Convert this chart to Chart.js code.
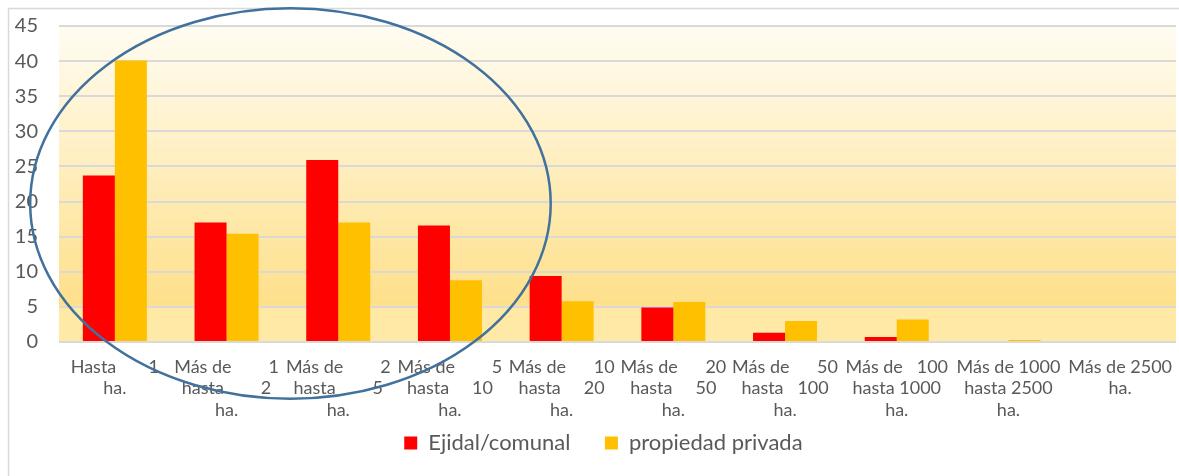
<!DOCTYPE html>
<html>
<head>
<meta charset="utf-8">
<script src="https://cdn.jsdelivr.net/npm/chart.js@4.4.0/dist/chart.umd.min.js"></script>
<style>
  html, body { margin: 0; padding: 0; background: #ffffff; }
  canvas { display: block; }
</style>
</head>
<body>
<canvas id="grafica" width="1179" height="476"></canvas>
<script>
// categorias (cada una en lineas, como sale en el original)
var categorias = [
	["Hasta 1", "ha."],
	["Más de 1", "hasta 2", "ha."],
	["Más de 2", "hasta 5", "ha."],
	["Más de 5", "hasta 10", "ha."],
	["Más de 10", "hasta 20", "ha."],
	["Más de 20", "hasta 50", "ha."],
	["Más de 50", "hasta 100", "ha."],
	["Más de 100", "hasta 1000", "ha."],
	["Más de 1000", "hasta 2500", "ha."],
	["Más de 2500", "ha."]
];
var ejidal = [23.7, 17.0, 25.9, 16.6, 9.4, 4.9, 1.3, 0.7, 0, 0];
var privada = [40.1, 15.4, 17.0, 8.8, 5.8, 5.7, 3.0, 3.2, 0.3, 0.15];
var ticksY = [0, 5, 10, 15, 20, 25, 30, 35, 40, 45];

var fuente = "Lato, 'Open Sans', sans-serif";
var gris = "#595959";

// rellena con espacios antes de la ultima palabra, como en Excel
var justificar = function (ctx, linea, ancho) {
	var palabras = linea.split(" ");
	if (palabras.length < 2) return linea;
	var cabeza = palabras.slice(0, -1).join(" ");
	var cola = palabras[palabras.length - 1];
	var libre = ancho - ctx.measureText(cabeza).width - ctx.measureText(cola).width;
	var n = Math.max(1, Math.round(libre / ctx.measureText(" ").width));
	return cabeza + " ".repeat(n) + cola;
};

var fondo = {
	id: "fondo",
	beforeDraw: function (chart) {
		var ctx = chart.ctx, a = chart.chartArea;
		ctx.save();
		// marco del grafico
		ctx.strokeStyle = "#d9d9d9";
		ctx.lineWidth = 1.5;
		ctx.beginPath();
		ctx.moveTo(8.5, chart.height);
		ctx.lineTo(8.5, 8.5);
		ctx.lineTo(chart.width, 8.5);
		ctx.stroke();
		// degradado del area de trazado
		var g = ctx.createLinearGradient(0, a.top, 0, a.bottom);
		g.addColorStop(0, "#fffcf2");
		g.addColorStop(0.88, "#fee08b");
		g.addColorStop(0.895, "#ffe9a5");
		g.addColorStop(1, "#ffe9a6");
		ctx.fillStyle = g;
		ctx.fillRect(a.left, a.top, a.right - a.left, a.bottom - a.top);
		ctx.restore();
	}
};

var elipse = {
	id: "elipse",
	afterDraw: function (chart) {
		var x = chart.scales.x, y = chart.scales.y, ctx = chart.ctx;
		var cx = x.getPixelForValue(1.572);
		var rx = (x.getPixelForValue(1) - x.getPixelForValue(0)) * 2.33;
		var cy = y.getPixelForValue(19.73);
		var ry = y.getPixelForValue(0) - y.getPixelForValue(27.8);
		ctx.save();
		ctx.strokeStyle = "#41719c";
		ctx.lineWidth = 2.5;
		ctx.beginPath();
		ctx.ellipse(cx, cy, rx, ry, 0, 0, Math.PI * 2);
		ctx.stroke();
		ctx.restore();
	}
};

var ctx = document.getElementById("grafica").getContext("2d");
var grafica = new Chart(ctx, {
	type: "bar",
	data: {
		labels: categorias,
		datasets: [{
			label: "Ejidal/comunal",
			data: ejidal,
			backgroundColor: "#ff0000",
			categoryPercentage: 0.573,
			barPercentage: 1
		}, {
			label: "propiedad privada",
			data: privada,
			backgroundColor: "#ffc000",
			categoryPercentage: 0.573,
			barPercentage: 1
		}]
	},
	options: {
		responsive: false,
		devicePixelRatio: 1,
		animation: false,
		layout: { padding: { left: 9, right: 3, top: 26, bottom: 12 } },
		plugins: {
			tooltip: { enabled: false },
			legend: {
				position: "bottom",
				fullSize: false,
				labels: {
					boxWidth: 13,
					boxHeight: 13,
					padding: 12,
					color: gris,
					font: { family: fuente, size: 22 },
					// hueco entre las dos entradas de la leyenda
					generateLabels: function (chart) {
						var items = Chart.defaults.plugins.legend.labels.generateLabels(chart);
						items.forEach(function (it, i) {
							it.text = it.text + (i < items.length - 1 ? "    " : "     ");
						});
						return items;
					}
				}
			}
		},
		scales: {
			x: {
				grid: { display: false, drawTicks: false },
				border: { display: false },
				afterFit: function (s) {
					s.height = 78;
					s.paddingLeft = 0;
					s.paddingRight = 0;
				},
				ticks: {
					autoSkip: false,
					maxRotation: 0,
					padding: 14,
					color: gris,
					font: { family: fuente, size: 18, lineHeight: 1.2 },
					callback: function (valor, i) {
						var c = this.chart.ctx;
						c.save();
						c.font = "18px " + fuente;
						var lineas = categorias[i].map(function (l, j) {
							var ancho = j === 0 ? (l.indexOf("Hasta") === 0 ? 87 : 104) : 88;
							return justificar(c, l, ancho);
						});
						c.restore();
						return lineas;
					}
				}
			},
			y: {
				min: 0,
				max: 45,
				afterFit: function (s) {
					s.width = 50;
					s.paddingTop = 0;
					s.paddingBottom = 0;
				},
				afterBuildTicks: function (s) {
					s.ticks = ticksY.map(function (v) { return { value: v }; });
				},
				grid: { color: "#d9d9d9", lineWidth: 2, drawTicks: false },
				border: { display: false },
				ticks: {
					padding: 21,
					color: gris,
					font: { family: fuente, size: 20 }
				}
			}
		}
	},
	plugins: [fondo, elipse]
});
</script>
</body>
</html>
